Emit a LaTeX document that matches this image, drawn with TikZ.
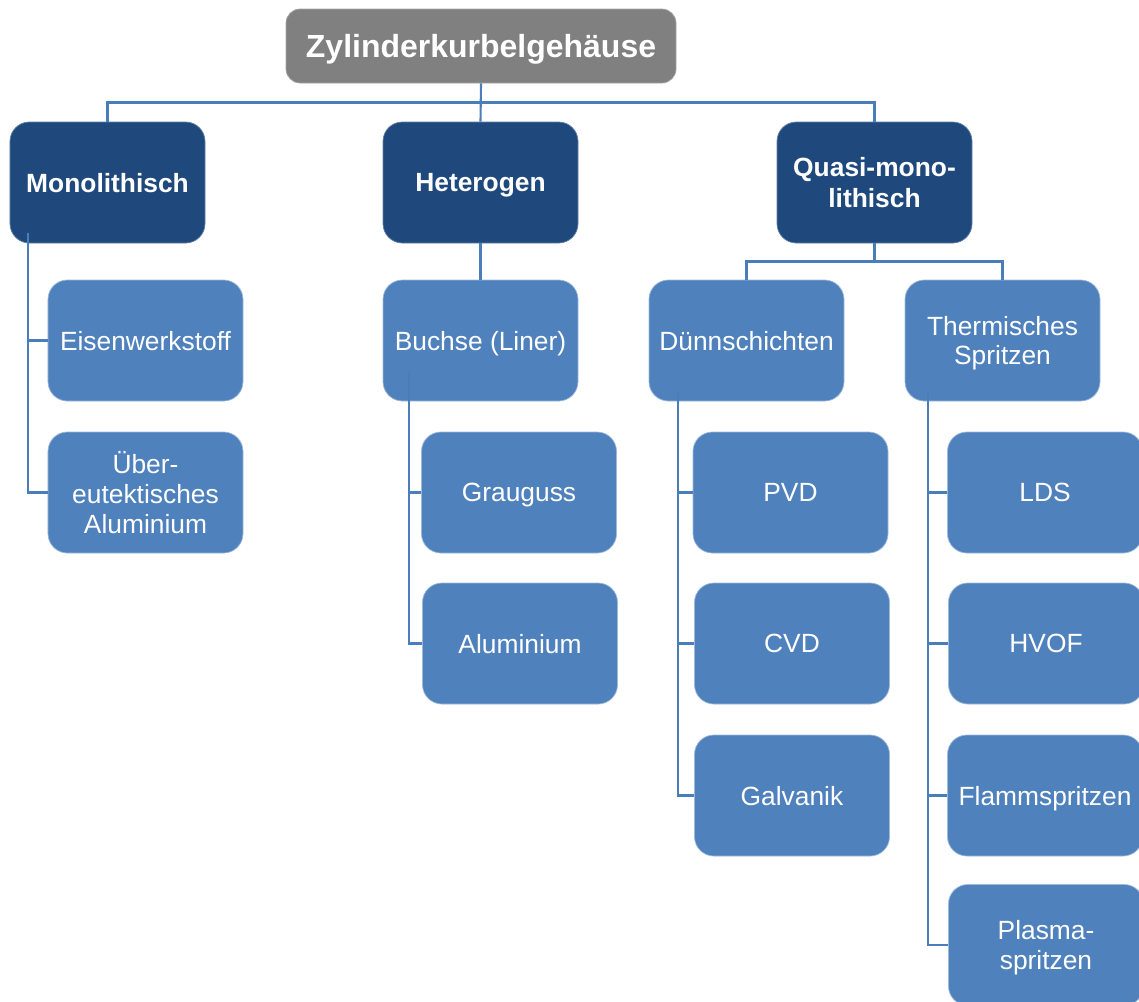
\documentclass[tikz,border=0pt]{standalone}
\usepackage{fontspec}
\setmainfont{Liberation Sans}
\usetikzlibrary{positioning,calc}
\definecolor{grayBox}{HTML}{808080}
\definecolor{darkBlue}{HTML}{1F497D}
\definecolor{midBlue}{HTML}{4F81BD}
\definecolor{lineBlue}{HTML}{4A7EBB}

\begin{document}
\begin{tikzpicture}[
    x=0.2mm, y=-0.2mm,
    rootBox/.style={rectangle, rounded corners=8pt, fill=grayBox, draw=grayBox!70!white, text=white, minimum width=7.8cm, minimum height=1.48cm, font=\fontsize{18.2}{21}\selectfont\bfseries, align=center, text depth=0pt},
    mainBox/.style={rectangle, rounded corners=11pt, fill=darkBlue, draw=darkBlue!70!white, text=white, minimum width=3.9cm, minimum height=2.42cm, font=\fontsize{15}{18}\selectfont\bfseries, align=center, text depth=0pt},
    subBox/.style={rectangle, rounded corners=11pt, fill=midBlue, draw=midBlue!55!white, text=white, minimum width=3.9cm, minimum height=2.42cm, font=\fontsize{15}{17}\selectfont, align=center, inner sep=2pt, text depth=0pt},
    linkLine/.style={line width=1.2pt, draw=lineBlue}
]
    \useasboundingbox (0,0) rectangle (1139,1001);
    \clip (0,0) rectangle (1139,1001);

    \node[rootBox] (root) at (481, 46) {Zylinderkurbelgehäuse};

    \node[mainBox] (mono) at (107.5, 182.5) {Monolithisch};
    \node[mainBox] (hetero) at (480.5, 182.5) {Heterogen};
    \node[mainBox] (quasi) at (874.5, 182.5) {Quasi-mono-\\lithisch};

    \node[subBox] (eisen) at (145.5, 340.5) {Eisenwerkstoff};
    \node[subBox] (ueber) at (145.5, 492.5) {Über-\\eutektisches\\Aluminium};

    \node[subBox] (buchse) at (480.5, 340.5) {Buchse (Liner)};
    \node[subBox] (grau) at (519, 492.5) {Grauguss};
    \node[subBox] (alu) at (520, 643.5) {Aluminium};

    \node[subBox] (duenn) at (746.5, 340.5) {Dünnschichten};
    \node[subBox] (pvd) at (790.5, 492.5) {PVD};
    \node[subBox] (cvd) at (792, 643.5) {CVD};
    \node[subBox] (galv) at (792, 795.5) {Galvanik};

    \node[subBox] (therm) at (1002.5, 340.5) {Thermisches\\Spritzen};
    \node[subBox] (lds) at (1045, 492.5) {LDS};
    \node[subBox] (hvof) at (1046, 643.5) {HVOF};
    \node[subBox] (flamm) at (1045, 795.5) {Flammspritzen};
    \node[subBox] (plasma) at (1046, 945) {Plasma-\\spritzen};

    % top level
    \coordinate (rootSplit) at ($(root.south)!0.5!(hetero.north)$);
    \draw[linkLine] (root.south) -- (hetero.north);
    \draw[linkLine] (rootSplit) -| (mono.north);
    \draw[linkLine] (rootSplit) -| (quasi.north);

    \coordinate (quasiSplit) at ($(quasi.south)!0.5!(duenn.north -| quasi.south)$);
    \draw[linkLine] (quasi.south) -- (quasiSplit);
    \draw[linkLine] (quasiSplit) -| (duenn.north);
    \draw[linkLine] (quasiSplit) -| (therm.north);
    \draw[linkLine] (hetero.south) -- (buchse.north);

    % side trunks
    \coordinate (monoTrunk) at ([shift={(18,-10)}]mono.south west);
    \draw[linkLine] (monoTrunk) |- (eisen.west);
    \draw[linkLine] (monoTrunk) |- (ueber.west);

    \coordinate (buchseTrunk) at ([shift={(26,-30)}]buchse.south west);
    \draw[linkLine] (buchseTrunk) |- (grau.west);
    \draw[linkLine] (buchseTrunk) |- (alu.west);

    \coordinate (duennTrunk) at ([shift={(29,-10)}]duenn.south west);
    \foreach \kid in {pvd, cvd, galv}
        \draw[linkLine] (duennTrunk) |- (\kid.west);

    \coordinate (thermTrunk) at ([shift={(23,-10)}]therm.south west);
    \foreach \kid in {lds, hvof, flamm, plasma}
        \draw[linkLine] (thermTrunk) |- (\kid.west);
\end{tikzpicture}
\end{document}
